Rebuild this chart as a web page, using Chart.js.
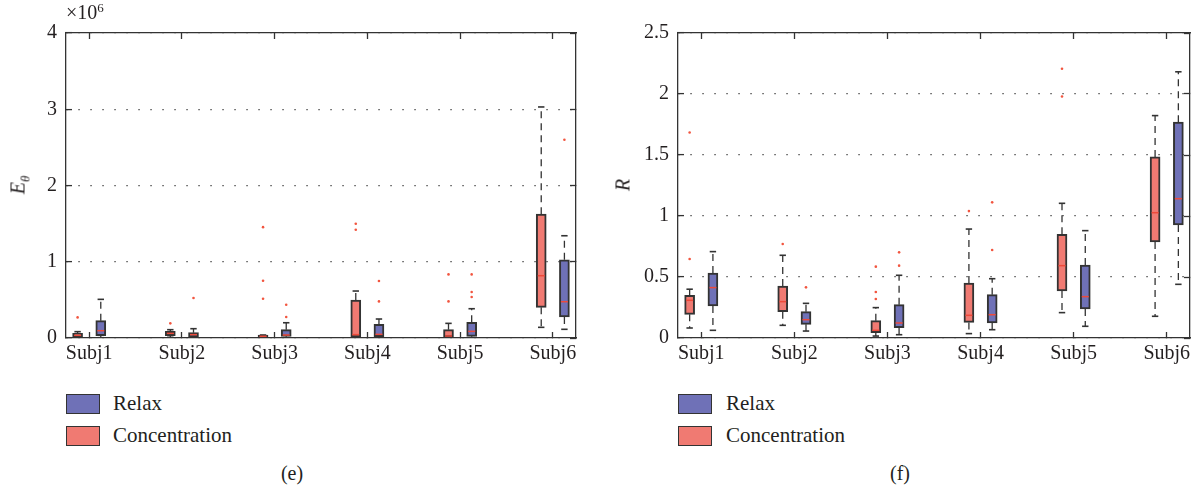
<!DOCTYPE html>
<html>
<head>
<meta charset="utf-8">
<script src="https://cdn.jsdelivr.net/npm/chart.js@4.4.1/dist/chart.umd.min.js"></script>
<style>
  html, body { margin: 0; padding: 0; background: #fff; }
  body { width: 1202px; height: 488px; position: relative; overflow: hidden;
         font-family: "Liberation Serif", "Times New Roman", Times, Tinos, "Noto Serif", "DejaVu Serif", serif; color: #231f20; }
  canvas { position: absolute; top: 0; }
  #cE { left: 0; }
  #cR { left: 600px; }
  .abs { position: absolute; white-space: nowrap; }
  .ytitle { font-size: 20px; transform: translate(-50%, -50%) rotate(-90deg); }
  .leg-box { position: absolute; width: 32px; height: 18px; border: 1.5px solid #333; }
  .leg-txt { position: absolute; font-size: 21px; line-height: 24px; }
  .cap { font-size: 20px; transform: translate(-50%, -50%); }
</style>
</head>
<body>
<canvas id="cE" width="600" height="370"></canvas>
<canvas id="cR" width="602" height="370"></canvas>

<div class="abs" style="left:66px; top:0px; font-size:20px;">×10<sup style="font-size:13px; vertical-align: 7px;">6</sup></div>
<div class="abs ytitle" style="left:20px; top:185px;"><i>E</i><sub style="font-size:13px;"><i>θ</i></sub></div>
<div class="abs ytitle" style="left:623px; top:185px;"><i>R</i></div>

<div class="leg-box" style="left:66px; top:394px; background:#6f71b7;"></div>
<div class="leg-txt" style="left:113px; top:391px;">Relax</div>
<div class="leg-box" style="left:66px; top:426px; background:#f07a72;"></div>
<div class="leg-txt" style="left:113px; top:423px;">Concentration</div>

<div class="leg-box" style="left:678px; top:394px; background:#6f71b7;"></div>
<div class="leg-txt" style="left:726px; top:391px;">Relax</div>
<div class="leg-box" style="left:678px; top:426px; background:#f07a72;"></div>
<div class="leg-txt" style="left:726px; top:423px;">Concentration</div>

<div class="abs cap" style="left:292px; top:473px;">(e)</div>
<div class="abs cap" style="left:900px; top:473px;">(f)</div>

<script>
// ---------- data ----------
const categories = ['Subj1', 'Subj2', 'Subj3', 'Subj4', 'Subj5', 'Subj6'];
const seriesNames = ['Relax', 'Concentration'];

// (e) E_theta, in units of 10^6
const eTicks = [0, 1, 2, 3, 4];
const eRelaxLo  = [0.004, 0.004, 0.004, 0.004, 0.004, 0.114];
const eRelaxQ1  = [0.031, 0.013, 0.022, 0.017, 0.022, 0.275];
const eRelaxMed = [0.096, 0.044, 0.039, 0.048, 0.087, 0.476];
const eRelaxQ3  = [0.227, 0.070, 0.109, 0.179, 0.205, 1.026];
const eRelaxHi  = [0.507, 0.122, 0.200, 0.249, 0.384, 1.341];
const eRelaxOut = [[], [0.524], [0.275, 0.437], [0.480, 0.747], [0.537, 0.603, 0.834], [2.60]];

const eConcLo  = [0.004, 0.009, 0.004, 0.009, 0.004, 0.140];
const eConcQ1  = [0.013, 0.031, 0.009, 0.013, 0.013, 0.402];
const eConcMed = [0.035, 0.061, 0.022, 0.044, 0.026, 0.817];
const eConcQ3  = [0.061, 0.087, 0.039, 0.498, 0.109, 1.624];
const eConcHi  = [0.083, 0.109, 0.039, 0.616, 0.192, 3.030];
const eConcOut = [[0.270], [0.192], [0.515, 0.751, 1.454], [1.419, 1.498], [0.480, 0.834], []];

// (f) R
const rTicks = [0, 0.5, 1, 1.5, 2, 2.5];
const rRelaxLo  = [0.063, 0.057, 0.027, 0.068, 0.096, 0.440];
const rRelaxQ1  = [0.262, 0.112, 0.085, 0.123, 0.238, 0.926];
const rRelaxMed = [0.413, 0.150, 0.123, 0.191, 0.339, 1.142];
const rRelaxQ3  = [0.533, 0.216, 0.273, 0.355, 0.598, 1.769];
const rRelaxHi  = [0.708, 0.284, 0.514, 0.486, 0.880, 2.182];
const rRelaxOut = [[], [0.415], [0.593, 0.702], [0.721, 1.112], [], []];

const rConcLo  = [0.082, 0.104, 0.016, 0.036, 0.208, 0.178];
const rConcQ1  = [0.194, 0.216, 0.044, 0.128, 0.385, 0.787];
const rConcMed = [0.309, 0.298, 0.063, 0.186, 0.593, 1.027];
const rConcQ3  = [0.350, 0.426, 0.142, 0.451, 0.850, 1.484];
const rConcHi  = [0.400, 0.678, 0.249, 0.893, 1.104, 1.823];
const rConcOut = [[0.648, 1.685], [0.770], [0.320, 0.377, 0.585], [1.040], [1.980, 2.207], []];

// ---------- styling ----------
const TEXT = '#231f20';
const AX = '#333333';
const RELAX_FILL = '#6f71b7';
const CONC_FILL = '#f07a72';
const MEDIAN = '#ee4a3a';
const OUTLIER = '#f2553f';
const FONT = { family: '"Liberation Serif", "Times New Roman", Times, Tinos, "Noto Serif", "DejaVu Serif", serif', size: 20 };
const OFFSET = 0.125;

function boxDatasets(name, fill, shift, lo, q1, med, q3, hi, out) {
  const pos = categories.map((c, i) => i + 1 + shift);
  const whisk = [];
  const caps = [];
  const outs = [];
  pos.forEach((x, i) => {
    whisk.push({ x, y: q3[i] }, { x, y: hi[i] }, { x, y: null });
    whisk.push({ x, y: q1[i] }, { x, y: lo[i] }, { x, y: null });
    caps.push({ x, y: hi[i] }, { x, y: lo[i] });
    out[i].forEach(v => outs.push({ x, y: v }));
  });
  return [
    { type: 'bar', label: name, order: 4, grouped: false,
      data: pos.map((x, i) => ({ x, y: [q1[i], q3[i]] })),
      backgroundColor: fill, borderColor: AX, borderWidth: 2, borderSkipped: false,
      barThickness: 10 },
    { type: 'line', label: name + ' whiskers', order: 3,
      data: whisk, borderColor: AX, borderWidth: 1.3, borderDash: [7, 5],
      pointRadius: 0, spanGaps: false, fill: false },
    { type: 'scatter', label: name + ' caps', order: 2,
      data: caps, pointStyle: 'line', pointRadius: 3.2, pointBorderColor: AX,
      pointBorderWidth: 1.6, pointBackgroundColor: AX },
    { type: 'scatter', label: name + ' medians', order: 1,
      data: pos.map((x, i) => ({ x, y: med[i] })), pointStyle: 'line', pointRadius: 3.5,
      pointBorderColor: MEDIAN, pointBorderWidth: 1.5 },
    { type: 'scatter', label: name + ' outliers', order: 0,
      data: outs, pointStyle: 'circle', pointRadius: 1.3, pointBorderWidth: 0,
      pointBackgroundColor: OUTLIER }
  ];
}

function catTicks(scale) {
  scale.ticks = categories.map((c, i) => ({ value: i + 1 }));
}

function makeChart(id, yMax, yTicks, leftW, rightW, datasets) {
  const valueTicks = (scale) => { scale.ticks = yTicks.map(v => ({ value: v })); };
  const xCommon = {
    type: 'linear', min: 0.75, max: 6.25, offset: false,
    afterBuildTicks: catTicks,
    grid: { display: true, offset: false, drawOnChartArea: false, drawTicks: true, tickLength: -6,
            tickColor: AX, tickWidth: 1.3 },
    border: { display: true, color: AX, width: 1.3 }
  };
  return new Chart(document.getElementById(id), {
    type: 'bar',
    data: { datasets },
    options: {
      responsive: false,
      animation: false,
      devicePixelRatio: 1,
      layout: { padding: 0 },
      plugins: { legend: { display: false }, tooltip: { enabled: false } },
      scales: {
        x: Object.assign({}, xCommon, {
          position: 'bottom',
          ticks: { callback: (v) => categories[Math.round(v) - 1], font: FONT, color: TEXT,
                   padding: 10, maxRotation: 0, autoSkip: false },
          afterFit: (s) => { s.height = 32; }
        }),
        x2: Object.assign({}, xCommon, {
          position: 'top',
          ticks: { display: false },
          afterFit: (s) => { s.height = 33; }
        }),
        y: {
          type: 'linear', position: 'left', min: 0, max: yMax,
          afterBuildTicks: valueTicks,
          ticks: { font: FONT, color: TEXT, padding: 15, callback: (v) => String(v) },
          grid: { display: true, drawOnChartArea: true, drawTicks: true, tickLength: -6,
                  color: '#555', lineWidth: 1.2, tickColor: AX, tickWidth: 1.3 },
          border: { display: true, color: AX, width: 1.3, dash: [1.5, 10.5] },
          afterFit: (s) => { s.width = leftW; }
        },
        y2: {
          type: 'linear', position: 'right', min: 0, max: yMax,
          afterBuildTicks: valueTicks,
          ticks: { display: false },
          grid: { display: true, drawOnChartArea: false, drawTicks: true, tickLength: -6,
                  tickColor: AX, tickWidth: 1.3 },
          border: { display: true, color: AX, width: 1.3 },
          afterFit: (s) => { s.width = rightW; }
        }
      }
    }
  });
}

makeChart('cE', 4, eTicks, 66, 24, [
  ...boxDatasets(seriesNames[0], RELAX_FILL, OFFSET, eRelaxLo, eRelaxQ1, eRelaxMed, eRelaxQ3, eRelaxHi, eRelaxOut),
  ...boxDatasets(seriesNames[1], CONC_FILL, -OFFSET, eConcLo, eConcQ1, eConcMed, eConcQ3, eConcHi, eConcOut)
]);

makeChart('cR', 2.5, rTicks, 78, 12, [
  ...boxDatasets(seriesNames[0], RELAX_FILL, OFFSET, rRelaxLo, rRelaxQ1, rRelaxMed, rRelaxQ3, rRelaxHi, rRelaxOut),
  ...boxDatasets(seriesNames[1], CONC_FILL, -OFFSET, rConcLo, rConcQ1, rConcMed, rConcQ3, rConcHi, rConcOut)
]);
</script>
</body>
</html>
